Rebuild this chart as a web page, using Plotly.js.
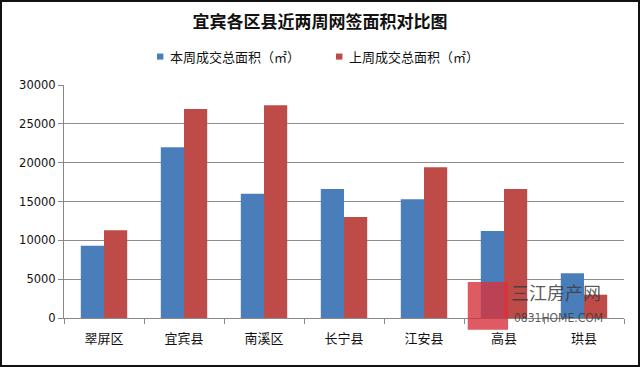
<!DOCTYPE html>
<html><head><meta charset="utf-8">
<script src="https://cdn.plot.ly/plotly-3.0.1.min.js"></script>
<style>html,body{margin:0;padding:0;background:#fff;}#wrap{width:636px;height:363px;border:2px solid #111;}#chart{width:636px;height:363px;}</style>
</head><body><div id="wrap"><div id="chart"></div></div>
<script>
const categories = ["翠屏区","宜宾县","南溪区","长宁县","江安县","高县","珙县"];
const thisWeek = [9300, 22000, 16000, 16600, 15300, 11200, 5750];
const lastWeek = [11300, 26900, 27400, 13000, 19400, 16600, 3000];
const seriesNames = ["本周成交总面积（㎡）","上周成交总面积（㎡）"];
const colors = ['#4a7ebb','#be4b48'];
const cjk = '"Noto Sans CJK SC", "DejaVu Sans", sans-serif';
const data = [
  {type:'bar', x:categories, y:thisWeek, name:seriesNames[0], marker:{color:colors[0]}},
  {type:'bar', x:categories, y:lastWeek, name:seriesNames[1], marker:{color:colors[1]}}
];
// custom legend (square + label), positioned in paper coordinates
const legX = [0.166, 0.4857];
const legendShapes = legX.map((x0, i) => ({type:'rect', xref:'paper', yref:'paper', x0:x0, x1:x0+0.0115, y0:1.109, y1:1.135, fillcolor:colors[i], line:{width:0}}));
const legendAnn = legX.map((x0, i) => ({xref:'paper', yref:'paper', x:x0+0.0195, y:1.121, xanchor:'left', yanchor:'middle', text:seriesNames[i], showarrow:false, font:{family:cjk, size:13, color:'#111'}}));
const layout = {
  width:636, height:363,
  margin:{l:62, r:14, t:83, b:47},
  paper_bgcolor:'#fff', plot_bgcolor:'#fff',
  title:{text:'<b>宜宾各区县近两周网签面积对比图</b>', x:0.5, xanchor:'center', y:0.945, yanchor:'middle', font:{family:cjk, size:17, color:'#111'}},
  showlegend:false,
  barmode:'group', bargap:0.42, bargroupgap:0,
  xaxis:{type:'category', showline:true, linecolor:'#888', linewidth:1, ticks:'outside', tickson:'boundaries', ticklen:5, tickcolor:'#888', ticklabelstandoff:8, tickfont:{family:cjk, size:13, color:'#111'}, showgrid:false},
  yaxis:{range:[0,30000], dtick:5000, tickformat:'d', showline:true, linecolor:'#888', linewidth:1, ticks:'outside', ticklen:5, tickcolor:'#888', gridcolor:'#8c8c8c', gridwidth:1, zeroline:false, tickfont:{family:'"DejaVu Sans", sans-serif', size:11.5, color:'#111'}},
  annotations:legendAnn.concat([
    {xref:'paper', yref:'paper', x:0.794, y:0.11, xanchor:'left', yanchor:'middle', text:'三江房产网', showarrow:false, font:{family:cjk, size:18, color:'rgba(60,60,60,0.85)'}},
    {xref:'paper', yref:'paper', x:0.800, y:0.0, xanchor:'left', yanchor:'middle', text:'0831HOME.COM', showarrow:false, font:{family:'"Liberation Sans Narrow", "DejaVu Sans Condensed", sans-serif', size:12, color:'rgba(60,60,60,0.85)'}}
  ]),
  shapes:legendShapes.concat([
    {type:'rect', xref:'paper', yref:'paper', x0:0.721, x1:0.793, y0:-0.05, y1:0.155, fillcolor:'rgba(215,50,60,0.8)', line:{width:0}}
  ])
};
Plotly.newPlot('chart', data, layout, {displayModeBar:false, staticPlot:true});
</script></body></html>
